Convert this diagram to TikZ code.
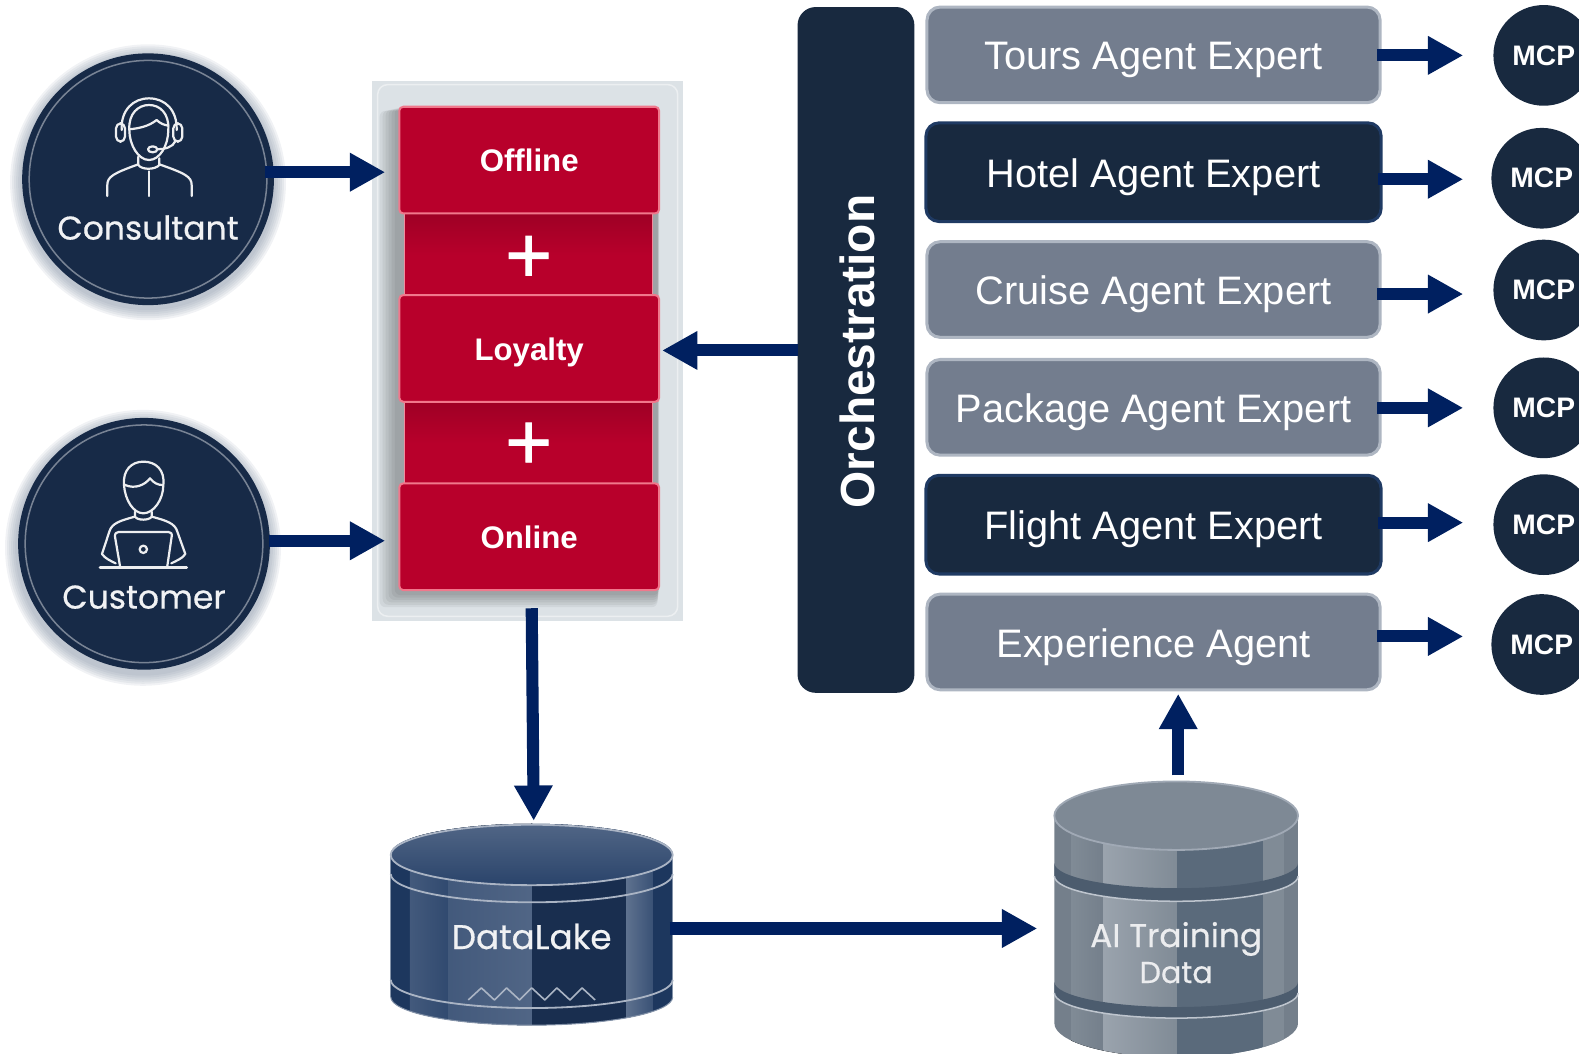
\documentclass[tikz,border=0pt]{standalone}
\usepackage{fontspec}
\setmainfont{Liberation Sans}
\newfontfamily\geofont[FakeBold=0.5]{Poppins}
\newfontfamily\plusfont[FakeBold=1]{Liberation Sans}
\usetikzlibrary{arrows.meta,calc}
\definecolor{navy}{HTML}{18293F}
\definecolor{discnavy}{HTML}{172A47}
\definecolor{navyedge}{HTML}{1F3A63}
\definecolor{arrowblue}{HTML}{002060}
\definecolor{greybox}{HTML}{737D8E}
\definecolor{greyedge}{HTML}{AEB6C2}
\definecolor{redbox}{HTML}{B8002B}
\definecolor{rededge}{HTML}{F0788C}
\definecolor{panelfill}{HTML}{DCE2E6}
\definecolor{halo}{HTML}{7F8DA0}
\definecolor{aibase}{HTML}{747F8B}
\definecolor{ailight}{HTML}{9AA3AD}
\definecolor{aimid}{HTML}{808B96}
\definecolor{aidark}{HTML}{5A6A7B}
\definecolor{aiband}{HTML}{4C5C6E}
\definecolor{aitop}{HTML}{7E8995}
\newcommand{\fsz}[1]{\fontsize{#1}{#1}\selectfont}
\tikzset{
  conn/.style={draw=arrowblue,line width=12pt,-{Triangle[length=35pt,width=36pt]}},
  agentgrey/.style={rectangle,rounded corners=13pt,fill=greybox,draw=greyedge,line width=3pt,text=white,minimum width=450pt,inner sep=0pt,outer sep=0pt,font=\fsz{39.5},text height=30pt,text depth=0pt},
  agentdark/.style={rectangle,rounded corners=13pt,fill=navy,draw=navyedge,line width=3pt,text=white,minimum width=452pt,inner sep=0pt,outer sep=0pt,font=\fsz{39.5},text height=30pt,text depth=0pt},
  mcp/.style={circle,fill=navy,text=white,minimum size=100pt,inner sep=0pt,outer sep=0pt,font=\fsz{28}\bfseries},
  redcard/.style={rectangle,rounded corners=4pt,fill=redbox,draw=rededge,line width=2pt,text=white,minimum width=258pt,minimum height=106pt,inner sep=0pt,outer sep=0pt,font=\fsz{31}\bfseries,text height=23pt,text depth=0pt},
  redbar/.style={top color=redbox!86!black,bottom color=redbox,middle color=redbox},
  person/.style={circle,fill=discnavy,minimum size=250pt,inner sep=0pt,outer sep=0pt},
  ring/.style={draw=white!42!discnavy,line width=1.5pt},
  icon/.style={draw=white!92!navy,line width=2.2pt,line cap=round,line join=round},
  geolabel/.style={text=white!94!navy,font=\geofont\fsz{32.7},inner sep=0pt},
  cylline/.style={draw=white!62!navyedge,line width=1.8pt},
  hide/.style={inner sep=0pt,outer sep=0pt},
  pluslabel/.style={inner sep=0pt,outer sep=0pt,text=white,font=\plusfont\fsz{80}}
}
\begin{document}
\begin{tikzpicture}[x=1pt,y=-1pt]
\useasboundingbox (0,0) rectangle (1568,1046);

% --- people halos and discs
\foreach \r in {137,135,133,131,129,127}{
  \fill[fill=halo,opacity=.11] (147,181) circle[radius=\r];
  \fill[fill=halo,opacity=.11] (142,544) circle[radius=\r];
}
\node[person] (consultant) at (147,178) {};
\node[person] (customer) at (143,540) {};
\draw[ring] (consultant) circle[radius=118];
\draw[ring] (customer) circle[radius=118];

% Consultant icon (coordinates of a 3x crop)
\begin{scope}[shift={(0,29.8)},x=.331pt,y=-.331pt]
  \draw[icon] (365,300) .. controls (362,240) and (400,205) .. (447,205) .. controls (495,205) and (532,240) .. (530,300);
  \draw[icon] (388,300) .. controls (385,250) and (415,225) .. (447,225) .. controls (480,225) and (508,250) .. (505,300) .. controls (505,345) and (480,390) .. (447,390) .. controls (415,390) and (388,345) .. (388,300);
  \draw[icon] (388,298) .. controls (415,295) and (445,290) .. (470,270) .. controls (480,280) and (492,285) .. (505,287);
  \draw[icon,rounded corners=5pt] (348,280) rectangle (375,335);
  \draw[icon,rounded corners=5pt] (520,280) rectangle (547,335);
  \draw[icon] (525,335) .. controls (520,350) and (495,358) .. (472,358);
  \draw[icon] (458,358) ellipse[x radius=14,y radius=9];
  \draw[icon] (415,380) -- (415,405) .. controls (425,420) and (465,420) .. (478,405) -- (478,385);
  \draw[icon] (322,498) -- (322,465) .. controls (322,440) and (340,430) .. (415,403);
  \draw[icon] (575,498) -- (575,465) .. controls (575,440) and (555,430) .. (478,403);
  \draw[icon] (447,424) -- (447,498);
\end{scope}
\node[geolabel] (consultantlabel) at (147,226) {Consultant};

% Customer icon (coordinates of a 3x crop)
\begin{scope}[shift={(0,397.2)},x=.331pt,y=-.331pt]
  \draw[icon] (372,255) .. controls (368,210) and (395,185) .. (430,185) .. controls (468,185) and (495,210) .. (490,255) .. controls (490,300) and (460,340) .. (430,340) .. controls (400,340) and (375,300) .. (372,255);
  \draw[icon] (375,255) .. controls (405,268) and (435,255) .. (450,235) .. controls (462,250) and (475,255) .. (487,255);
  \draw[icon] (405,335) -- (405,350) .. controls (412,362) and (448,362) .. (455,350) -- (455,335);
  \draw[icon] (405,350) .. controls (360,362) and (335,370) .. (328,395) -- (306,462) .. controls (315,475) and (330,482) .. (347,490);
  \draw[icon] (455,350) .. controls (500,362) and (525,370) .. (532,395) -- (556,462) .. controls (548,475) and (530,482) .. (514,490);
  \draw[icon] (360,498) -- (345,410) .. controls (344,400) and (350,396) .. (356,396) -- (505,396) .. controls (512,396) and (517,400) .. (515,410) -- (502,498);
  \draw[icon,line width=2.8pt] (300,503) -- (560,503);
  \draw[icon] (430,448) circle[radius=11];
\end{scope}
\node[geolabel] (customerlabel) at (143,593) {Customer};

% --- central panel
\node[rectangle,fill=panelfill,minimum width=309pt,minimum height=537pt,hide] (panel) at (523.5,348.5) {};
\draw[draw=white!45!panelfill,line width=1.5pt,rounded corners=10pt] (375,84) rectangle (673,612);
\foreach \o in {20,17,14,11,8,5}{
  \fill[fill=black,opacity=.05,rounded corners=6pt] (397-\o,106+\o*.2) rectangle (655-\o*.1,587+\o*.8);
}
\fill[redbar] (402,212) rectangle (648,295);
\fill[redbar] (402,399) rectangle (648,482);
\draw[draw=rededge!85!white,line width=1pt] (402,212) -- (402,295) (648,212) -- (648,295) (402,399) -- (402,482) (648,399) -- (648,482);
\node[redcard] (offline) at (525.5,159) {Offline};
\node[redcard] (loyalty) at (525.5,346) {Loyalty};
\node[redcard] (online) at (525.5,533) {Online};
\node[pluslabel] (plusa) at (525,257.5) {+};
\node[pluslabel] (plusb) at (525,443) {+};

% --- orchestration column
\node[rectangle,rounded corners=18pt,fill=navy,minimum width=116pt,minimum height=681pt,hide] (orch) at (850,347.5) {};
\node[rotate=90,text=white,font=\fsz{47.5}\bfseries,hide] (orchlabel) at (851,349) {Orchestration};

% --- agents
\node[agentgrey,minimum height=95pt] (tours) at (1145.5,54.5) {Tours Agent Expert};
\node[agentdark,minimum height=98pt] (hotel) at (1145.5,171) {Hotel Agent Expert};
\node[agentgrey,minimum height=95pt] (cruise) at (1145.5,287.5) {Cruise Agent Expert};
\node[agentgrey,minimum height=95pt] (package) at (1145.5,404.5) {Package Agent Expert};
\node[agentdark,minimum height=98pt] (flight) at (1145.5,521) {Flight Agent Expert};
\node[agentgrey,minimum height=95pt] (experience) at (1145.5,637.5) {Experience Agent};

% --- MCP discs
\node[mcp] (mcpa) at (1533,55) {MCP};
\node[mcp] (mcpb) at (1531,177) {MCP};
\node[mcp] (mcpc) at (1533,288) {MCP};
\node[mcp] (mcpd) at (1533,405) {MCP};
\node[mcp] (mcpe) at (1533,521) {MCP};
\node[mcp] (mcpf) at (1531,640) {MCP};

% --- DataLake cylinder
\begin{scope}
  \clip (388,848) -- (388,990) arc[start angle=180,end angle=0,x radius=140,y radius=28] -- (668,848) arc[start angle=0,end angle=-180,x radius=140,y radius=30] -- cycle;
  \fill[fill=navyedge!95!black] (388,810) rectangle (668,1030);
  \fill[left color=navyedge!84!white,right color=navyedge!92!white] (407,810) rectangle (445,1030);
  \fill[left color=navyedge!84!white,right color=navyedge!78!white] (445,810) rectangle (528,1030);
  \fill[fill=navyedge!80!black] (528,810) rectangle (622,1030);
  \fill[left color=navyedge!72!white,right color=navyedge!88!white] (622,810) rectangle (648,1030);
\end{scope}
\draw[draw=white!45!navyedge,line width=1pt] (388,848) -- (388,990) (668,848) -- (668,990);
\draw[cylline] (388,868) arc[start angle=180,end angle=0,x radius=140,y radius=28];
\draw[cylline] (388,973) arc[start angle=180,end angle=0,x radius=140,y radius=28];
\draw[draw=white!45!navyedge,line width=1pt] (388,990) arc[start angle=180,end angle=0,x radius=140,y radius=28];
\draw[cylline,top color=navyedge!78!white,bottom color=navyedge!95!white] (528,849) ellipse[x radius=140,y radius=30];
\draw[cylline,line width=1.6pt,line join=round] (465,993) -- (478,981) -- (491,993) -- (503,981) -- (516,993) -- (528,981) -- (541,993) -- (553,981) -- (566,993) -- (578,981) -- (591,993);
\node[geolabel,font=\geofont\fsz{34}] (datalakelabel) at (528,930) {DataLake};
\node[hide,minimum width=280pt,minimum height=199pt] (datalake) at (528,919) {};

% --- AI training cylinder
\begin{scope}
  \clip (1047,810) -- (1047,1016) arc[start angle=180,end angle=0,x radius=121,y radius=34] -- (1289,810) arc[start angle=0,end angle=-180,x radius=121,y radius=34] -- cycle;
  \fill[fill=aibase] (1047,770) rectangle (1289,1060);
  \fill[left color=aimid,right color=aibase] (1064,770) rectangle (1096,1060);
  \fill[left color=ailight,right color=aimid] (1096,770) rectangle (1169,1060);
  \fill[fill=aidark] (1169,770) rectangle (1254,1060);
  \fill[fill=aimid] (1254,770) rectangle (1275,1060);
  \fill[fill=aiband] (1047,857) arc[start angle=180,end angle=0,x radius=121,y radius=25] -- (1289,870) arc[start angle=0,end angle=180,x radius=121,y radius=25] -- cycle;
  \fill[fill=aiband] (1047,975) arc[start angle=180,end angle=0,x radius=121,y radius=25] -- (1289,986) arc[start angle=0,end angle=180,x radius=121,y radius=25] -- cycle;
\end{scope}
\draw[draw=greyedge!80!white,line width=1.5pt] (1047,870) arc[start angle=180,end angle=0,x radius=121,y radius=25];
\draw[draw=greyedge!80!white,line width=1.5pt] (1047,986) arc[start angle=180,end angle=0,x radius=121,y radius=25];
\draw[draw=greyedge!70!aimid,line width=1.8pt,fill=aitop] (1168,810) ellipse[x radius=121,y radius=34];
\node[geolabel,align=center,text=white!86!aibase,font=\geofont\fsz{32.7},inner sep=0pt] (ailabel) at (1168,946) {AI Training\\[3pt]{\fsz{30}Data}};
\node[hide,minimum width=242pt,minimum height=270pt] (aidata) at (1168,910) {};

% --- connectors
\draw[conn] ($(consultant.east)+(-9,-7)$) -- ($(offline.west)+(-14,12)$);
\draw[conn] ($(customer.east)+(-1,-3)$) -- ($(online.west)+(-14,4)$);
\draw[conn] ($(orch.west)+(0,.5)$) -- ($(loyalty.east)+(3,2)$);
\draw[conn] ($(panel.south)+(4.5,-13)$) -- ($(datalake.north)+(2,-4.5)$);
\draw[conn] ($(datalake.east)+(-3,3)$) -- ($(aidata.west)+(-17,12)$);
\draw[conn] ($(aidata.north)+(2,-5)$) -- ($(experience.south)+(24.5,4)$);
\draw[conn] ($(tours.east)+(-3,.5)$) -- ($(mcpa.west)+(-30,0)$);
\draw[conn] ($(hotel.east)+(-3,7)$) -- ($(mcpb.west)+(-28,1)$);
\draw[conn] ($(cruise.east)+(-3,4.5)$) -- ($(mcpc.west)+(-30,4)$);
\draw[conn] ($(package.east)+(-3,.5)$) -- ($(mcpd.west)+(-30,0)$);
\draw[conn] ($(flight.east)+(-3,-2)$) -- ($(mcpe.west)+(-30,-2)$);
\draw[conn] ($(experience.east)+(-3,-5.5)$) -- ($(mcpf.west)+(-28,-8)$);
\end{tikzpicture}
\end{document}
